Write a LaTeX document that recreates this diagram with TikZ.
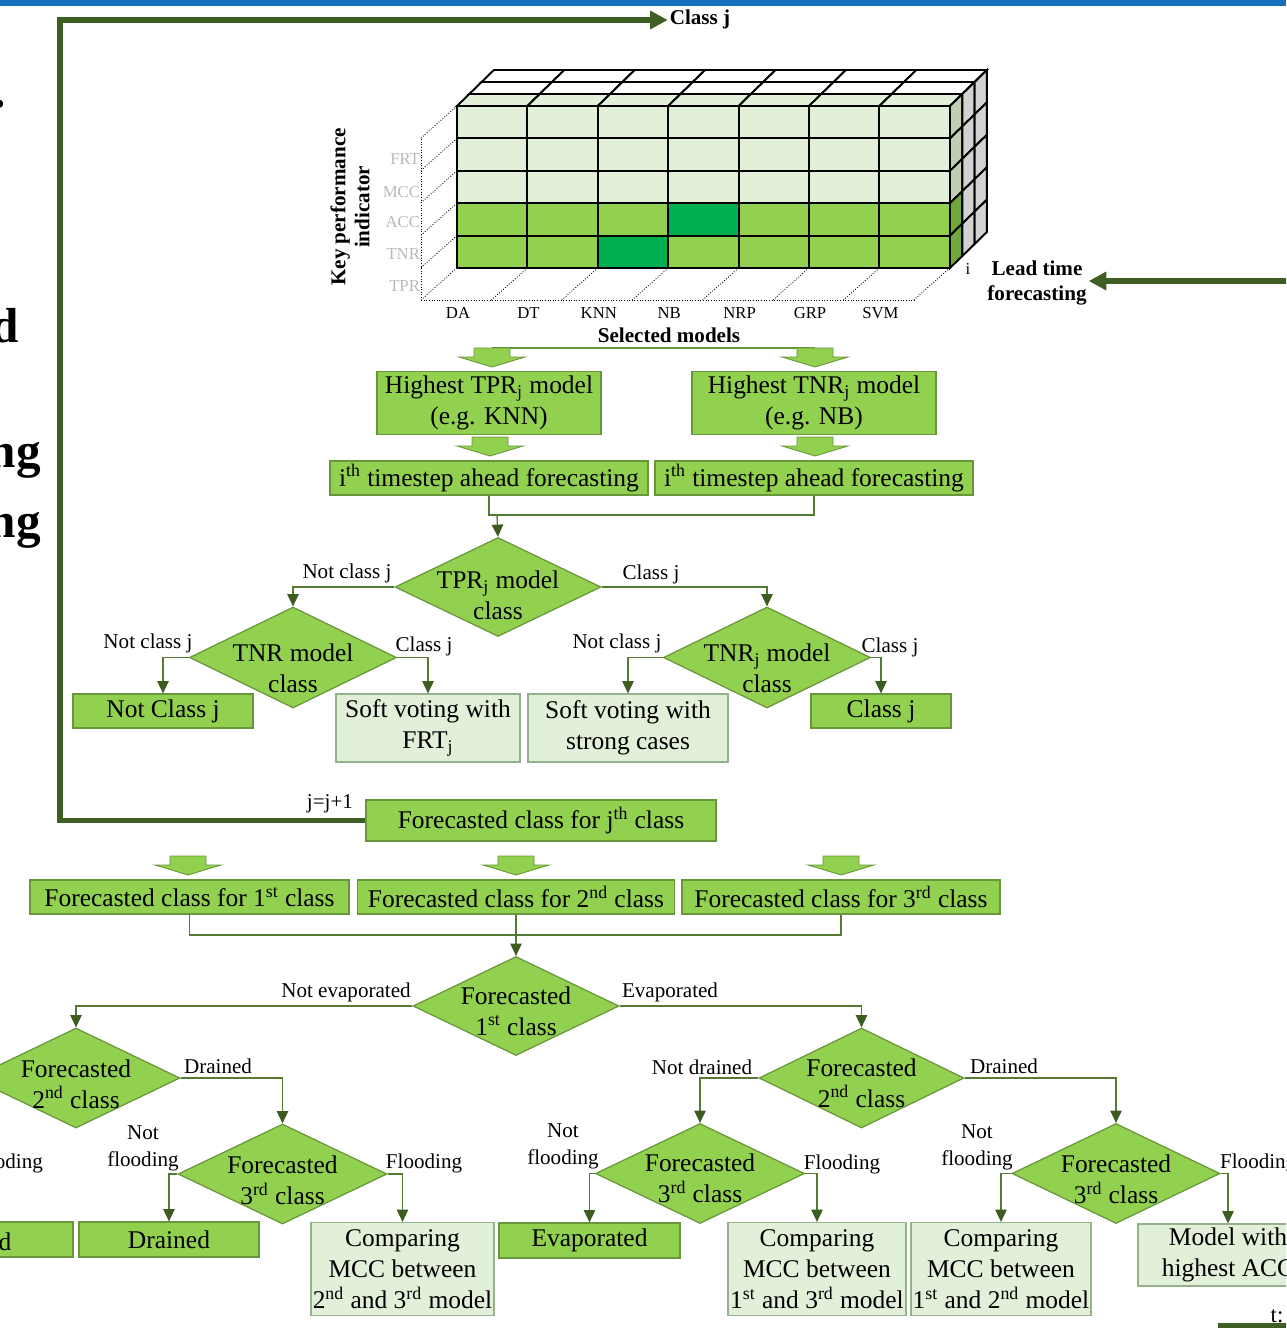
\documentclass[tikz,border=0pt]{standalone}
\usepackage{fontspec}
\setmainfont{Liberation Serif}
\usetikzlibrary{arrows.meta,shapes.geometric}

\definecolor{leafgreen}{RGB}{146,208,80}
\definecolor{deepgreen}{RGB}{0,176,80}
\definecolor{palegreen}{RGB}{226,239,217}
\definecolor{edgegreen}{RGB}{104,150,58}
\definecolor{paleedge}{RGB}{150,178,138}
\definecolor{linegreen}{RGB}{84,122,52}
\definecolor{arrowgreen}{RGB}{60,92,32}
\definecolor{loopgreen}{RGB}{62,94,36}
\definecolor{topblue}{RGB}{24,113,188}
\definecolor{sidegreen}{RGB}{112,168,62}
\definecolor{sidepale}{RGB}{192,206,180}
\definecolor{sidegray}{RGB}{210,210,210}
\definecolor{kpigray}{RGB}{185,185,185}

\begin{document}
\begin{tikzpicture}[x=0.02cm, y=-0.02cm,
    gbox/.style={draw=edgegreen, fill=leafgreen, line width=0.7pt, inner sep=1pt, align=center, font=\fontsize{14.5}{17.6}\selectfont},
    pbox/.style={gbox, draw=paleedge, fill=palegreen},
    dec/.style={diamond, draw=edgegreen, fill=leafgreen, line width=0.7pt, aspect=2, inner sep=0pt, minimum width=4.12cm, minimum height=1.98cm},
    dectxt/.style={font=\fontsize{14.5}{17.6}\selectfont, align=center, inner sep=0pt, yshift=-2.8pt},
    lbl/.style={font=\fontsize{12}{15.3}\selectfont, align=center, inner sep=1pt},
    small/.style={font=\fontsize{9.5}{11}\selectfont, inner sep=1pt},
    heading/.style={font=\bfseries\fontsize{12}{14.5}\selectfont, align=center, inner sep=1pt},
    bigfrag/.style={font=\bfseries\fontsize{28}{34}\selectfont, inner sep=0pt, anchor=base east},
    conn/.style={draw=linegreen, line width=0.75pt, -{Triangle[length=7pt,width=6.5pt,color=arrowgreen]}},
    wire/.style={draw=linegreen, line width=0.75pt},
    loopline/.style={draw=loopgreen, line width=3.4pt, -{Triangle[length=10pt,width=10pt]}},
    blockarrow/.style={draw=edgegreen, fill=leafgreen, line width=0.5pt},
    cellline/.style={draw=black, line width=1.1pt},
    floorline/.style={densely dotted, line width=0.5pt}]

    \useasboundingbox (0,0) rectangle (1286,1328);
    \clip (0,0) rectangle (1286,1328);

    % Top band and cut-off title letters
    \fill[topblue] (0,0) rectangle (1286,6);
    \node[bigfrag] (frag1) at (6,108) {.};
    \node[bigfrag] (frag2) at (19,342) {d};
    \node[bigfrag] (frag3) at (41,467) {ng};
    \node[bigfrag] (frag4) at (41,537) {ng};

    % Dotted floor and side wall of the cube
    \foreach \k in {0,...,7}
        \draw[floorline] (457+70.4*\k,268) -- (421+70.4*\k,300);
    \draw[floorline] (421,300) -- (914,300);
    \draw[floorline] (421,139) -- (421,300);
    \foreach \r in {0,...,4}
        \draw[floorline] (457,106+32.4*\r) -- (421,138+32.4*\r);

    % Front face of the cube
    \fill[palegreen] (457,106) rectangle (950,203.2);
    \fill[leafgreen] (457,203.2) rectangle (950,268);
    \fill[deepgreen] (668.2,203.2) rectangle (738.6,235.6); % NB, ACC
    \fill[deepgreen] (597.8,235.6) rectangle (668.2,268);   % KNN, TNR
    \foreach \c in {0,...,7}
        \draw[cellline] (457+70.4*\c,106) -- (457+70.4*\c,268);
    \foreach \r in {0,...,5}
        \draw[cellline] (457,106+32.4*\r) -- (950,106+32.4*\r);

    % Top faces
    \foreach \c in {0,...,6}
        \filldraw[cellline, fill=palegreen] (457+70.4*\c,106) -- ++(70.4,0) -- ++(12.3,-12) -- ++(-70.4,0) -- cycle;
    \foreach \d in {1,2}
        \foreach \c in {0,...,6}
            \filldraw[cellline, fill=white] (457+70.4*\c+12.3*\d,106-12*\d) -- ++(70.4,0) -- ++(12.3,-12) -- ++(-70.4,0) -- cycle;

    % Right faces
    \foreach \r in {0,1,2}
        \filldraw[cellline, fill=sidepale] (950,106+32.4*\r) -- ++(12.3,-12) -- ++(0,32.4) -- ++(-12.3,12) -- cycle;
    \foreach \r in {3,4}
        \filldraw[cellline, fill=sidegreen] (950,106+32.4*\r) -- ++(12.3,-12) -- ++(0,32.4) -- ++(-12.3,12) -- cycle;
    \foreach \d in {1,2}
        \foreach \r in {0,...,4}
            \filldraw[cellline, fill=sidegray] (950+12.3*\d,106+32.4*\r-12*\d) -- ++(12.3,-12) -- ++(0,32.4) -- ++(-12.3,12) -- cycle;

    % Cube labels
    \node[small, text=kpigray, anchor=east] (frt) at (422,159) {FRT};
    \node[small, text=kpigray, anchor=east] (mcc) at (422,192) {MCC};
    \node[small, text=kpigray, anchor=east] (acc) at (422,222) {ACC};
    \node[small, text=kpigray, anchor=east] (tnrk) at (422,254) {TNR};
    \node[small, text=kpigray, anchor=east] (tprk) at (422,286) {TPR};
    \node[heading, rotate=90, font=\bfseries\fontsize{12}{13.6}\selectfont] (kpi) at (350,207) {Key performance\\indicator};
    \node[small] (da) at (458,313) {DA};
    \node[small] (dt) at (528.4,313) {DT};
    \node[small] (knn) at (598.8,313) {KNN};
    \node[small] (nb) at (669.2,313) {NB};
    \node[small] (nrp) at (739.6,313) {NRP};
    \node[small] (grp) at (810,313) {GRP};
    \node[small] (svm) at (880.4,313) {SVM};
    \node[heading] (selm) at (669,335) {Selected models};
    \node[small] (ilead) at (968,269) {i};
    \node[heading] (lead) at (1037,283) {Lead time\\forecasting};

    % Block arrows
    \draw[wire, draw=edgegreen] (492,348) -- (815,348);
    \foreach \ax/\ay in {492/348, 815/348, 490/437, 815/437, 188/856, 516/856, 841/856}
        \draw[blockarrow] (\ax-18,\ay) -- (\ax+18,\ay) -- (\ax+18,\ay+9) -- (\ax+33,\ay+9) -- (\ax,\ay+19) -- (\ax-33,\ay+9) -- (\ax-18,\ay+9) -- cycle;

    % Model selection
    \node[gbox, minimum width=4.48cm, minimum height=1.26cm] (htpr) at (489,403) {Highest TPR\textsubscript{j} model\\(e.g. KNN)};
    \node[gbox, minimum width=4.88cm, minimum height=1.26cm] (htnr) at (814,403) {Highest TNR\textsubscript{j} model\\(e.g. NB)};
    \node[gbox, minimum width=6.36cm, minimum height=0.68cm] (tsl) at (489,478) {i\textsuperscript{th} timestep ahead forecasting};
    \node[gbox, minimum width=6.36cm, minimum height=0.68cm] (tsr) at (814,478) {i\textsuperscript{th} timestep ahead forecasting};

    % First decision tree
    \node[dec, label={[dectxt, yshift=-2pt]center:{TPR\textsubscript{j} model\\class}}] (tpr) at (498,587) {};
    \node[dec, minimum width=4.14cm, minimum height=2.02cm, label={[dectxt, yshift=-3.2pt]center:{TNR model\\class}}] (tnrl) at (293,657.5) {};
    \node[dec, minimum width=4.14cm, minimum height=2.02cm, label={[dectxt, yshift=-3.2pt]center:{TNR\textsubscript{j} model\\class}}] (tnrr) at (767,657.5) {};
    \node[gbox, minimum width=3.6cm, minimum height=0.68cm] (notj) at (163,711) {Not Class j};
    \node[pbox, minimum width=3.68cm, minimum height=1.36cm] (softf) at (428,728) {Soft voting with\\FRT\textsubscript{j}};
    \node[pbox, minimum width=4.0cm, minimum height=1.36cm] (softs) at (628,728) {Soft voting with\\strong cases};
    \node[gbox, minimum width=2.8cm, minimum height=0.68cm] (clj) at (881,711) {Class j};
    \node[gbox, minimum width=7.0cm, minimum height=0.82cm] (fcj) at (541,820.5) {Forecasted class for j\textsuperscript{th} class};

    \coordinate (m1) at (497,515);
    \draw[wire] (tsl.south) |- (m1);
    \draw[wire] (tsr.south) |- (m1);
    \draw[conn] (m1) -- (tpr.north);
    \draw[conn] (tpr.west) -| (tnrl.north);
    \draw[conn] (tpr.east) -| (tnrr.north);
    \draw[conn] (tnrl.west) -| (notj.north);
    \draw[conn] (tnrl.east) -| (softf.north);
    \draw[conn] (tnrr.west) -| (softs.north);
    \draw[conn] (tnrr.east) -| (clj.north);

    \node[lbl] (l1) at (347,573) {Not class j};
    \node[lbl] (l2) at (651,574) {Class j};
    \node[lbl] (l3) at (148,643) {Not class j};
    \node[lbl] (l4) at (424,646) {Class j};
    \node[lbl] (l5) at (617,643) {Not class j};
    \node[lbl] (l6) at (890,647) {Class j};

    % Loop back to the next class and lead time input
    \node[lbl] (jinc) at (330,804) {j=j+1};
    \node[heading] (topj) at (700,19) {Class j};
    \coordinate (loopc) at (60,20);
    \draw[loopline] (fcj.west) -| (loopc) -- (loopc -| topj.west);
    \coordinate (leadin) at (1290,281);
    \draw[loopline] (leadin) -- (leadin -| lead.east);

    % Forecasted classes
    \node[gbox, minimum width=6.38cm, minimum height=0.68cm] (fc1) at (189.5,897) {Forecasted class for 1\textsuperscript{st} class};
    \node[gbox, minimum width=6.34cm, minimum height=0.68cm] (fc2) at (516,897) {Forecasted class for 2\textsuperscript{nd} class};
    \node[gbox, minimum width=6.36cm, minimum height=0.68cm] (fc3) at (841,897) {Forecasted class for 3\textsuperscript{rd} class};
    \coordinate (m2) at (516,935);
    \draw[wire] (fc1.south) |- (m2);
    \draw[wire] (fc3.south) |- (m2);

    % Second decision tree
    \node[dec, label={[dectxt]center:{Forecasted\\1\textsuperscript{st} class}}] (f1) at (516,1006) {};
    \node[dec, minimum width=4.16cm, minimum height=2cm, label={[dectxt, yshift=-0.6pt]center:{Forecasted\\2\textsuperscript{nd} class}}] (f2l) at (76,1078) {};
    \node[dec, minimum width=4.1cm, minimum height=2cm, label={[dectxt]center:{Forecasted\\2\textsuperscript{nd} class}}] (f2r) at (861.5,1078) {};
    \node[dec, minimum width=4.18cm, minimum height=2cm, label={[dectxt, yshift=-0.8pt]center:{Forecasted\\3\textsuperscript{rd} class}}] (f3l) at (282.5,1174) {};
    \node[dec, minimum width=4.18cm, minimum height=2cm, label={[dectxt]center:{Forecasted\\3\textsuperscript{rd} class}}] (f3a) at (700,1173.5) {};
    \node[dec, minimum width=4.16cm, minimum height=2cm, label={[dectxt, yshift=-0.5pt]center:{Forecasted\\3\textsuperscript{rd} class}}] (f3b) at (1116,1173.5) {};

    \node[gbox, minimum width=3.66cm, minimum height=0.7cm] (flooded) at (-18.5,1239.5) {};
    \node[gbox, draw=none, fill=none, anchor=base east, inner sep=0pt] (floodedtxt) at (12,1250) {d};
    \node[gbox, minimum width=3.6cm, minimum height=0.7cm] (drained) at (169,1239.5) {Drained};
    \node[pbox, minimum width=3.62cm, minimum height=1.86cm] (cmp23) at (402.5,1269) {Comparing\\MCC between\\2\textsuperscript{nd} and 3\textsuperscript{rd} model};
    \node[gbox, minimum width=3.62cm, minimum height=0.7cm] (evap) at (589.5,1240.5) {Evaporated};
    \node[pbox, minimum width=3.56cm, minimum height=1.86cm] (cmp13) at (817,1269) {Comparing\\MCC between\\1\textsuperscript{st} and 3\textsuperscript{rd} model};
    \node[pbox, minimum width=3.56cm, minimum height=1.86cm] (cmp12) at (1001,1269) {Comparing\\MCC between\\1\textsuperscript{st} and 2\textsuperscript{nd} model};
    \node[pbox, minimum width=3.6cm, minimum height=1.24cm] (bestacc) at (1228,1255) {Model with\\highest ACC};

    \draw[conn] (fc2.south) -- (f1.north);
    \draw[conn] (f1.west) -| (f2l.north);
    \draw[conn] (f1.east) -| (f2r.north);
    \draw[conn] (f2l.east) -| (f3l.north);
    \draw[conn] (f2r.west) -| (f3a.north);
    \draw[conn] (f2r.east) -| (f3b.north);
    \draw[conn] (f3l.west) -| (drained.north);
    \draw[conn] (f3l.east) -| (cmp23.north);
    \draw[conn] (f3a.west) -| (evap.north);
    \draw[conn] (f3a.east) -| (cmp13.north);
    \draw[conn] (f3b.west) -| (cmp12.north);
    \draw[conn] (f3b.east) -| (bestacc.north);

    \node[lbl] (l7) at (346,992) {Not evaporated};
    \node[lbl] (l8) at (670,992) {Evaporated};
    \node[lbl] (l9) at (218,1066) {Drained};
    \node[lbl] (l10) at (702,1067) {Not drained};
    \node[lbl] (l11) at (1004,1066) {Drained};
    \node[lbl, anchor=base east] (l12) at (45,1168) {Flooding};
    \node[lbl] (l13) at (143,1148) {Not\\flooding};
    \node[lbl] (l14) at (424,1163) {Flooding};
    \node[lbl] (l15) at (563,1146) {Not\\flooding};
    \node[lbl] (l16) at (842,1164) {Flooding};
    \node[lbl] (l17) at (977,1147) {Not\\flooding};
    \node[lbl, anchor=west] (l18) at (1218,1163) {Flooding};

    % Cut-off corner at the bottom right
    \node[lbl, font=\fontsize{13}{15}\selectfont] (tcut) at (1277,1316) {t:};
    \draw[draw=loopgreen, line width=3pt] (1218,1326) -- (1290,1326);
\end{tikzpicture}
\end{document}
